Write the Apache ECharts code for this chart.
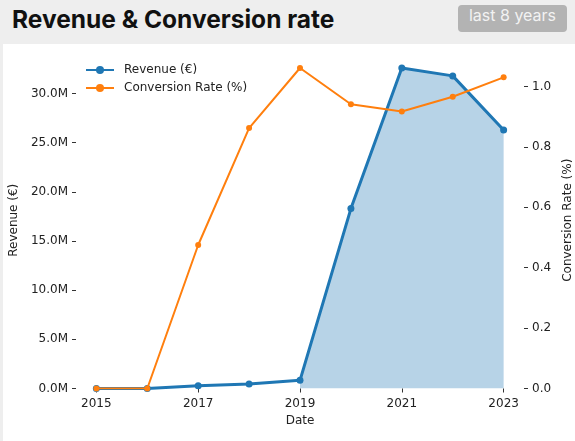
<!DOCTYPE html>
<html lang="en">
<head>
    <meta charset="UTF-8">
    <title>Revenue & Conversion rate</title>
    <script src="https://cdn.jsdelivr.net/npm/echarts@6/dist/echarts.min.js"></script>
    <style>
        html, body { margin: 0; padding: 0; width: 575px; height: 441px; overflow: hidden; background: #fff; }
        .card { position: relative; width: 575px; height: 441px; box-sizing: border-box; border-left: 3px solid #eeeeee; }
        .header { position: absolute; left: -3px; top: 0; width: 575px; height: 44px; background: #eeeeee; }
        .header h1 { position: absolute; left: 12px; top: 4px; margin: 0; font: bold 24.5px Inter, "Noto Sans", sans-serif; color: #111; }
        .badge { position: absolute; left: 458px; top: 5px; width: 109px; height: 27px; line-height: 27px; text-align: center;
                 background: #b3b3b3; color: #f2f2f2; border-radius: 4px; font: 16px Inter, "Noto Sans", sans-serif; }
        #fig1 { position: absolute; left: -3px; top: 44px; width: 575px; height: 397px; }
    </style>
</head>
<body>
<div class="card">
    <div class="header">
        <h1>Revenue &amp; Conversion rate</h1>
        <div class="badge">last 8 years</div>
    </div>
    <div id="fig1"></div>
</div>
<script>
    // data
    let years = [2015, 2016, 2017, 2018, 2019, 2020, 2021, 2022, 2023];
    let revenue = [0, 0, 0.29e6, 0.46e6, 0.83e6, 18.3e6, 32.6e6, 31.8e6, 26.3e6];
    let conversion = [0, 0, 0.475, 0.862, 1.061, 0.941, 0.917, 0.966, 1.030];
    let xTicks = [2015, 2017, 2019, 2021, 2023];
    let revTicks = [0, 5e6, 10e6, 15e6, 20e6, 25e6, 30e6];
    let convTicks = [0, 0.2, 0.4, 0.6, 0.8, 1.0];
    let fillFrom = 2019;

    let txt = '#222';
    let font = 'DejaVu Sans';

    let fig1 = echarts.init(document.getElementById('fig1'), null, {renderer: 'canvas'});

    let revData = years.map((y, i) => [y, revenue[i]]);
    let convData = years.map((y, i) => [y, conversion[i]]);
    let fillData = revData.filter((d) => d[0] >= fillFrom);

    let option = {
        animation: false,
        textStyle: { fontFamily: font },
        grid: { left: 76, right: 51, top: 8, bottom: 52.5, containLabel: false, outerBoundsMode: 'none' },
        legend: {
            left: 80, top: 15, orient: 'vertical', itemGap: 6,
            itemWidth: 28, itemHeight: 10,
            textStyle: { fontFamily: font, fontSize: 12, color: txt, padding: [0, 0, 0, 5] },
            data: ['Revenue (€)', 'Conversion Rate (%)']
        },
        xAxis: {
            type: 'value', min: 2014.6, max: 2023.4,
            name: 'Date', nameLocation: 'center', nameGap: 26,
            nameTextStyle: { fontFamily: font, fontSize: 12, color: txt },
            axisLine: { show: false },
            axisTick: { show: true, length: 4, customValues: xTicks, lineStyle: { color: '#333' } },
            axisLabel: { customValues: xTicks, fontFamily: font, fontSize: 12, color: txt, margin: 9,
                formatter: (v) => String(v) },
            splitLine: { show: false }
        },
        yAxis: [{
            type: 'value', min: 0, max: 34.23e6,
            name: 'Revenue (€)', nameLocation: 'center', nameGap: 53, nameRotate: 90,
            nameTextStyle: { fontFamily: font, fontSize: 12, color: txt },
            axisLine: { show: false },
            axisTick: { show: true, length: 4, customValues: revTicks, lineStyle: { color: '#333' } },
            axisLabel: { customValues: revTicks, fontFamily: font, fontSize: 12, color: txt, margin: 8,
                formatter: (v) => (v / 1e6).toFixed(1) + 'M' },
            splitLine: { show: false }
        }, {
            type: 'value', min: 0, max: 1.114,
            name: 'Conversion Rate (%)', nameLocation: 'center', nameGap: 37, nameRotate: 90,
            nameTextStyle: { fontFamily: font, fontSize: 12, color: txt },
            axisLine: { show: false },
            axisTick: { show: true, length: 4, customValues: convTicks, lineStyle: { color: '#333' } },
            axisLabel: { customValues: convTicks, fontFamily: font, fontSize: 12, color: txt, margin: 8,
                formatter: (v) => v.toFixed(1) },
            splitLine: { show: false }
        }],
        series: [{
            name: 'fill', type: 'line', yAxisIndex: 0, data: fillData,
            symbol: 'none', lineStyle: { width: 0 }, silent: true,
            areaStyle: { color: 'rgba(31,119,180,0.32)', opacity: 1 }, z: 1
        }, {
            name: 'Revenue (€)', type: 'line', yAxisIndex: 0, data: revData,
            color: '#1f77b4', lineStyle: { width: 3 }, symbol: 'circle', symbolSize: 7, z: 2
        }, {
            name: 'Conversion Rate (%)', type: 'line', yAxisIndex: 1, data: convData,
            color: '#ff7f0e', lineStyle: { width: 2 }, symbol: 'circle', symbolSize: 6, z: 3
        }]
    };
    fig1.setOption(option);
</script>
</body>
</html>
